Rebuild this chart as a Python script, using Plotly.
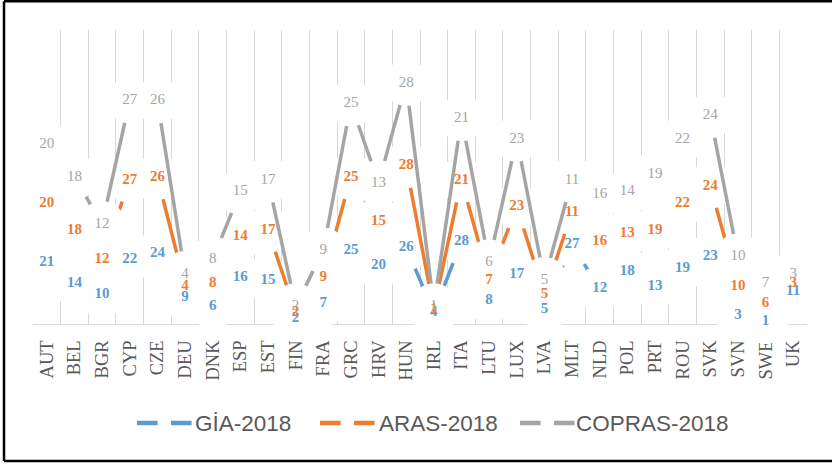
import numpy as np
import plotly.graph_objects as go

# ---- data (ranks per country, three methods; chart is a stacked line chart) ----
countries = ["AUT", "BEL", "BGR", "CYP", "CZE", "DEU", "DNK", "ESP", "EST", "FIN",
             "FRA", "GRC", "HRV", "HUN", "IRL", "ITA", "LTU", "LUX", "LVA", "MLT",
             "NLD", "POL", "PRT", "ROU", "SVK", "SVN", "SWE", "UK"]
gia_2018 = [21, 14, 10, 22, 24, 9, 6, 16, 15, 2, 7, 25, 20, 26, 4, 28, 8, 17, 5, 27,
            12, 18, 13, 19, 23, 3, 1, 11]
aras_2018 = [20, 18, 12, 27, 26, 4, 8, 14, 17, 2, 9, 25, 15, 28, 1, 21, 7, 23, 5, 11,
             16, 13, 19, 22, 24, 10, 6, 3]
copras_2018 = [20, 18, 12, 27, 26, 4, 8, 15, 17, 2, 9, 25, 13, 28, 1, 21, 6, 23, 5, 11,
               16, 14, 19, 22, 24, 10, 7, 3]
series_names = ["GİA-2018", "ARAS-2018", "COPRAS-2018"]
colors = ["#5B9BD5", "#ED7D31", "#A5A5A5"]

# ---- layout geometry ----
W, H = 832, 466
L, R, T, B = 33, 25, 30, 142
PW, PH = W - L - R, H - T - B


def px(x):
    return (x - L) / PW


def py(y):
    return (H - B - y) / PH


series = [gia_2018, aras_2018, copras_2018]
stacked = np.cumsum(np.array(series), axis=0)

fig = go.Figure()
for i, vals in enumerate(series):
    fig.add_trace(go.Scatter(
        x=countries, y=stacked[i], mode="lines+markers",
        line=dict(color=colors[i], width=3.5),
        marker=dict(size=46, color="white", line=dict(width=0)),
        cliponaxis=False, showlegend=False, hoverinfo="skip"))
for i, vals in enumerate(series):
    fig.add_trace(go.Scatter(
        x=countries, y=stacked[i], mode="text",
        text=[str(v) for v in vals], textposition="middle center",
        textfont=dict(family="Liberation Serif", size=15,
                      color=colors[i], weight="bold" if i < 2 else "normal"),
        cliponaxis=False, showlegend=False, hoverinfo="skip"))

shapes = []
annotations = []
# manual legend
leg_y = py(423)
leg_sym_x = [137, 320, 520]
leg_txt_x = [193, 377, 574]
for i in range(3):
    shapes.append(dict(type="line", xref="paper", yref="paper",
                       x0=px(leg_sym_x[i]), x1=px(leg_sym_x[i] + 55), y0=leg_y, y1=leg_y,
                       line=dict(color=colors[i], width=4.3, dash="20.6px,13.4px")))
    annotations.append(dict(xref="paper", yref="paper", x=px(leg_txt_x[i]), y=leg_y,
                            text=series_names[i], showarrow=False, xanchor="left",
                            yanchor="middle",
                            font=dict(family="Liberation Sans", size=22.5,
                                      color="#595959")))
# outer frame: left, top, bottom edges only (right edge is outside the picture)
frame = dict(type="line", xref="paper", yref="paper", line=dict(color="black", width=2.5))
shapes.append(dict(frame, x0=px(4), x1=px(4), y0=py(1.2), y1=py(461)))
shapes.append(dict(frame, x0=px(4), x1=px(832), y0=py(1.2), y1=py(1.2)))
shapes.append(dict(frame, x0=px(4), x1=px(832), y0=py(461), y1=py(461)))

fig.update_layout(
    width=W, height=H,
    margin=dict(l=L, r=R, t=T, b=B, autoexpand=False),
    paper_bgcolor="white", plot_bgcolor="white",
    showlegend=False,
    xaxis=dict(type="category", range=[-0.5, 27.5], tickson="boundaries",
               showgrid=True, gridcolor="#D9D9D9", gridwidth=1,
               showline=True, linecolor="#D9D9D9", linewidth=1,
               ticks="", tickangle=-90, ticklabelstandoff=8, automargin=False,
               tickfont=dict(family="Liberation Serif", size=18.5, color="#595959"),
               layer="below traces", fixedrange=True),
    yaxis=dict(range=[0, 100], visible=False, fixedrange=True, automargin=False),
    shapes=shapes, annotations=annotations,
)

fig.write_html("out.html", config={"displayModeBar": False},
               post_script="document.body.style.margin='0';document.body.style.padding='0';")
